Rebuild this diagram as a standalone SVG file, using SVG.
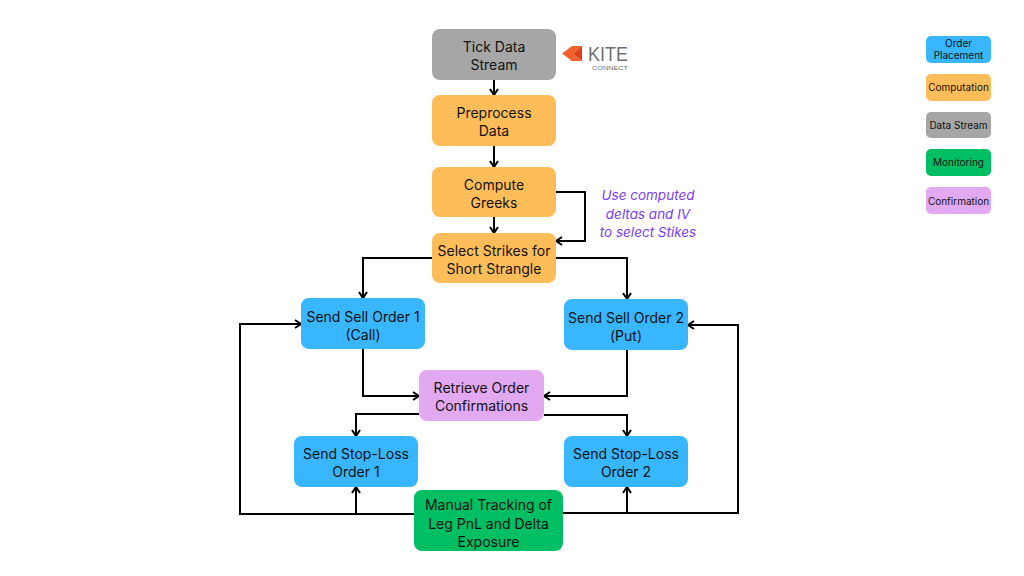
<svg xmlns="http://www.w3.org/2000/svg" width="1024" height="576" viewBox="0 0 1024 576">
<style>
.t{font-family:Inter,"Open Sans","Liberation Sans",sans-serif;font-size:14px;fill:#111;text-anchor:middle}
.lg{font-family:Inter,"Open Sans","Liberation Sans",sans-serif;font-size:10px;fill:#111;text-anchor:middle}
.nt{font-family:Inter,"Open Sans","Liberation Sans",sans-serif;font-size:13.5px;font-style:italic;fill:#7b3cf5;text-anchor:middle}
.c{fill:none;stroke:#000;stroke-width:2;marker-end:url(#ah)}
.blue{fill:#38b6ff}.orange{fill:#ffbd59}.gray{fill:#a6a6a6}.green{fill:#00bf63}.lilac{fill:#e2a9f1}
</style>
<defs>
<marker id="ah" viewBox="0 0 10 10" refX="9" refY="5" markerWidth="10" markerHeight="10" markerUnits="userSpaceOnUse" orient="auto">
<path d="M3,1 L9,5 L3,9" fill="none" stroke="#000" stroke-width="2"/>
</marker>
</defs>
<rect width="1024" height="576" fill="#fff"/>
<g id="connectors">
<path class="c" d="M494,80 V95"/>
<path class="c" d="M494,146 V167"/>
<path class="c" d="M494,217 V233"/>
<path class="c" d="M556,192 H585 V241 H556"/>
<path class="c" d="M432,258 H363 V298"/>
<path class="c" d="M556,258 H627 V299"/>
<path class="c" d="M363,349 V396 H419"/>
<path class="c" d="M627,350 V396 H544"/>
<path class="c" d="M419,414 H356 V436"/>
<path class="c" d="M544,415 H627 V436"/>
<path class="c" d="M414,514 H240 V324 H301"/>
<path class="c" d="M563,513 H738 V325 H688"/>
<path class="c" d="M356,514 V487"/>
<path class="c" d="M627,514 V487"/>
</g>
<g id="tick">
<rect class="gray" x="432" y="29" width="124" height="51" rx="8"/>
<text class="t" x="494" y="52">Tick Data</text>
<text class="t" x="494" y="70">Stream</text>
</g>
<g id="kite">
<polygon points="562,53.5 572,46 582,46 573,53.5 582,61 572,61" fill="#f4612e"/>
<polygon points="573,53.5 582,46 582,61" fill="#dc3f19"/>
<text x="588" y="61" font-family="'Liberation Sans',sans-serif" font-size="20" fill="#707070" textLength="40" lengthAdjust="spacingAndGlyphs">KITE</text>
<text x="592" y="69.5" font-family="'Liberation Sans',sans-serif" font-size="5.5" fill="#707070" textLength="36" lengthAdjust="spacingAndGlyphs">CONNECT</text>
</g>
<g id="preprocess">
<rect class="orange" x="432" y="95" width="124" height="51" rx="8"/>
<text class="t" x="494" y="118">Preprocess</text>
<text class="t" x="494" y="136">Data</text>
</g>
<g id="compute">
<rect class="orange" x="432" y="167" width="124" height="50" rx="8"/>
<text class="t" x="494" y="190">Compute</text>
<text class="t" x="494" y="208">Greeks</text>
</g>
<g id="note">
<text class="nt" x="648" y="200">Use computed</text>
<text class="nt" x="648" y="218.5">deltas and IV</text>
<text class="nt" x="648" y="237">to select Stikes</text>
</g>
<g id="select">
<rect class="orange" x="432" y="233" width="124" height="50" rx="8"/>
<text class="t" x="494" y="256">Select Strikes for</text>
<text class="t" x="494" y="274">Short Strangle</text>
</g>
<g id="sell1">
<rect class="blue" x="301" y="298" width="124" height="51" rx="8"/>
<text class="t" x="363" y="321.5">Send Sell Order 1</text>
<text class="t" x="363" y="339.5">(Call)</text>
</g>
<g id="sell2">
<rect class="blue" x="564" y="299" width="124" height="51" rx="8"/>
<text class="t" x="626" y="322.5">Send Sell Order 2</text>
<text class="t" x="626" y="340.5">(Put)</text>
</g>
<g id="retrieve">
<rect class="lilac" x="419" y="370" width="125" height="51" rx="8"/>
<text class="t" x="481.5" y="393">Retrieve Order</text>
<text class="t" x="481.5" y="411">Confirmations</text>
</g>
<g id="sl1">
<rect class="blue" x="294" y="436" width="124" height="51" rx="8"/>
<text class="t" x="356" y="459">Send Stop-Loss</text>
<text class="t" x="356" y="477">Order 1</text>
</g>
<g id="sl2">
<rect class="blue" x="564" y="436" width="124" height="51" rx="8"/>
<text class="t" x="626" y="459">Send Stop-Loss</text>
<text class="t" x="626" y="477">Order 2</text>
</g>
<g id="manual">
<rect class="green" x="414" y="490" width="149" height="61" rx="8"/>
<text class="t" x="488.5" y="510">Manual Tracking of</text>
<text class="t" x="488.5" y="528.5">Leg PnL and Delta</text>
<text class="t" x="488.5" y="547">Exposure</text>
</g>
<g id="legend">
<g id="lg-order"><rect class="blue" x="926" y="36" width="65" height="27" rx="5"/><text class="lg" x="958.5" y="46.5">Order</text><text class="lg" x="958.5" y="59">Placement</text></g>
<g id="lg-comp"><rect class="orange" x="926" y="74" width="65" height="27" rx="5"/><text class="lg" x="958.5" y="91">Computation</text></g>
<g id="lg-data"><rect class="gray" x="926" y="112" width="65" height="26" rx="5"/><text class="lg" x="958.5" y="129">Data Stream</text></g>
<g id="lg-mon"><rect class="green" x="926" y="149" width="65" height="27" rx="5"/><text class="lg" x="958.5" y="166">Monitoring</text></g>
<g id="lg-conf"><rect class="lilac" x="926" y="187" width="65" height="27" rx="5"/><text class="lg" x="958.5" y="204.5">Confirmation</text></g>
</g>
</svg>
